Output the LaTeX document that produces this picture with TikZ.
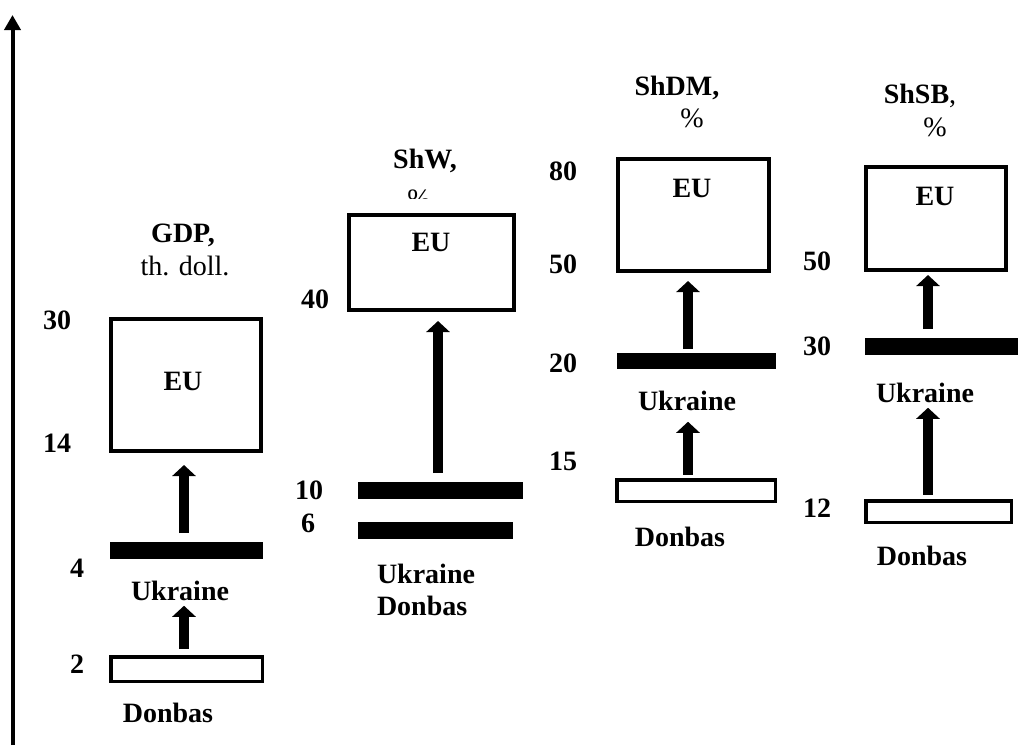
\documentclass[tikz,border=0pt]{standalone}
\usepackage{fontspec}
\setmainfont{Liberation Serif}
\usetikzlibrary{arrows.meta}
\begin{document}
\begin{tikzpicture}[x=1pt,y=-1pt,
  every node/.style={inner sep=0pt,outer sep=0pt},
  txt/.style={anchor=base,font=\fontsize{28}{31}\selectfont},
  btxt/.style={anchor=base,font=\fontsize{28}{31}\selectfont\bfseries},
  eubox/.style={draw,line width=4pt,fill=white},
  barbox/.style={fill=black},
  donbox/.style={draw,line width=3.5pt,fill=white},
  bigarrow/.style={line width=10.5pt,-{Triangle[width=23pt,length=11pt]}},
  axisarrow/.style={line width=4pt,-{Triangle[width=16pt,length=15pt]}}]
\useasboundingbox (0,0) rectangle (1031,745);
% axis
\coordinate (axb) at (12.5,745);
\coordinate (axt) at (12.5,15);
\draw[axisarrow] (axb) -- (axt);

% ---------- column 1: GDP ----------
\node[eubox,minimum width=150pt,minimum height=132pt] (eu1) at (186,385) {};
\node[barbox,minimum width=153pt,minimum height=17pt] (ub1) at (186.5,550.5) {};
\node[donbox,minimum width=151.5pt,minimum height=24.5pt] (db1) at (186.5,669) {};
\node[btxt] (t1) at (183,242) {GDP,};
\node[txt] (u1) at (185,275) {th. doll.};
\node[btxt] (e1) at (183,390) {EU};
\node[btxt] (n130) at (57,329) {30};
\node[btxt] (n114) at (57,452) {14};
\node[btxt] (n14) at (77,577) {4};
\node[btxt] (n12) at (77,673) {2};
\node[btxt] (uk1) at (180,600) {Ukraine};
\node[btxt] (dl1) at (168,722) {Donbas};
\draw[bigarrow] ([xshift=-2.5pt,yshift=9pt]ub1.north) -- ([xshift=-2pt,yshift=-14pt]eu1.south);
\draw[bigarrow] ([xshift=-2.5pt,yshift=8pt]db1.north) -- ++(0,-43);

% ---------- column 2: ShW ----------
\node[eubox,minimum width=165pt,minimum height=95pt] (eu2) at (431.5,262.5) {};
\node[barbox,minimum width=165pt,minimum height=17pt] (ub2) at (440.5,490.5) {};
\node[barbox,minimum width=155pt,minimum height=17pt] (db2) at (435.5,530.5) {};
\node[btxt] (t2) at (425,168) {ShW,};
\begin{scope}
  \clip (380,180) rectangle (460,198);
  \node[txt] (p2) at (419,208) {\%};
\end{scope}
\node[btxt] (e2) at (431,251) {EU};
\node[btxt] (n240) at (315,308) {40};
\node[btxt] (n210) at (309,499) {10};
\node[btxt] (n26) at (308,532) {6};
\node[btxt,anchor=base west] (uk2) at (377,583) {Ukraine};
\node[btxt,anchor=base west] (dl2) at (377,615) {Donbas};
\draw[bigarrow] ([xshift=-2.5pt,yshift=9pt]ub2.north) -- ([xshift=6.5pt,yshift=-11pt]eu2.south);

% ---------- column 3: ShDM ----------
\node[eubox,minimum width=151pt,minimum height=112pt] (eu3) at (693.5,215) {};
\node[barbox,minimum width=159pt,minimum height=16pt] (ub3) at (696.5,361) {};
\node[donbox,minimum width=158.5pt,minimum height=21.5pt] (db3) at (696,490.5) {};
\node[btxt] (t3) at (677,95) {ShDM,};
\node[txt] (p3) at (692,127) {\%};
\node[btxt] (e3) at (692,197) {EU};
\node[btxt] (n380) at (563,180) {80};
\node[btxt] (n350) at (563,273) {50};
\node[btxt] (n320) at (563,372) {20};
\node[btxt] (n315) at (563,470) {15};
\node[btxt] (uk3) at (687,410) {Ukraine};
\node[btxt] (dl3) at (680,546) {Donbas};
\draw[bigarrow] ([xshift=-8.5pt,yshift=4pt]ub3.north) -- ([xshift=-5.5pt,yshift=-10pt]eu3.south);
\draw[bigarrow] ([xshift=-8pt,yshift=5pt]db3.north) -- ++(0,-53);

% ---------- column 4: ShSB ----------
\node[eubox,minimum width=140pt,minimum height=103pt] (eu4) at (936,218.5) {};
\node[barbox,minimum width=153pt,minimum height=17pt] (ub4) at (941.5,346.5) {};
\node[donbox,minimum width=145.5pt,minimum height=21.5pt] (db4) at (938.5,511.5) {};
\node[txt] (t4) at (920,103) {\textbf{ShSB},};
\node[txt] (p4) at (935,136) {\%};
\node[btxt] (e4) at (935,205) {EU};
\node[btxt] (n450) at (817,270) {50};
\node[btxt] (n430) at (817,355) {30};
\node[btxt] (n412) at (817,517) {12};
\node[btxt] (uk4) at (925,402) {Ukraine};
\node[btxt] (dl4) at (922,565) {Donbas};
\draw[bigarrow] ([xshift=-13.5pt,yshift=9pt]ub4.north) -- ([xshift=-8pt,yshift=-5pt]eu4.south);
\draw[bigarrow] ([xshift=-10.5pt,yshift=6pt]db4.north) -- ++(0,-87);
\end{tikzpicture}
\end{document}
